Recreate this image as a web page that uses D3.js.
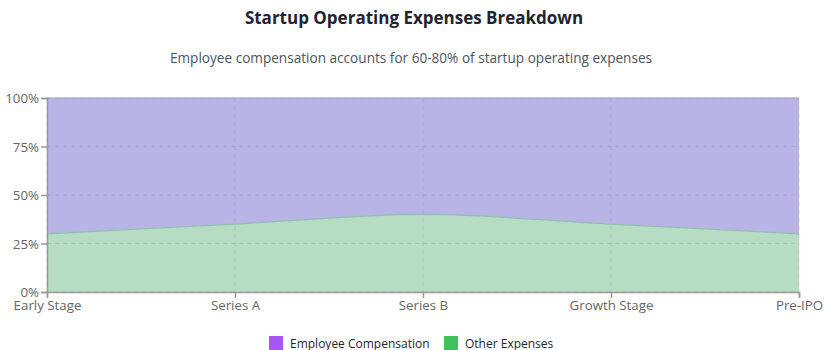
<!DOCTYPE html>
<html><head><meta charset="utf-8">
<script src="https://cdn.jsdelivr.net/npm/d3@7"></script>
<style>
body{margin:0;background:#fff;font-family:"Open Sans","Noto Sans",sans-serif;}
</style></head><body>
<svg id="chart" width="828" height="350"></svg>
<script>
const categories = ["Early Stage","Series A","Series B","Growth Stage","Pre-IPO"];
const employeeCompensation = [70,65,60,65,70];
const otherExpenses = [30,35,40,35,30];
const yTicks = [0,25,50,75,100];
const seriesNames = ["Employee Compensation","Other Expenses"];

const svg = d3.select("#chart");
const W = 828, H = 350;
const m = {left:47, right:29, top:98, bottom:58};
const iw = W - m.left - m.right, ih = H - m.top - m.bottom;

const data = categories.map((c,i)=>({cat:c, other:otherExpenses[i], emp:employeeCompensation[i]}));
const stack = d3.stack().keys(["other","emp"]).offset(d3.stackOffsetExpand);
const layers = stack(data);

const x = d3.scalePoint().domain(categories).range([0, iw]);
const y = d3.scaleLinear().domain([0,1]).range([ih, 0]);

svg.append("text").attr("x", W/2).attr("y", 24).attr("text-anchor","middle")
  .attr("font-size",17).attr("font-weight","bold").attr("fill","#1f2430").text("Startup Operating Expenses Breakdown");
svg.append("text").attr("x", W/2 - 3).attr("y", 63).attr("text-anchor","middle")
  .attr("font-size",13.6).attr("fill","#4b5563").text("Employee compensation accounts for 60-80% of startup operating expenses");

const g = svg.append("g").attr("transform",`translate(${m.left},${m.top})`);

const fills = {other:"#b6dcc4", emp:"#b8b4e5"};
const strokes = {other:"#8fbfb0", emp:"#a39fd9"};
const area = d3.area().x((d,i)=>x(categories[i])).y0(d=>y(d[0])).y1(d=>y(d[1])).curve(d3.curveMonotoneX);
const line = d3.line().x((d,i)=>x(categories[i])).y(d=>y(d[1])).curve(d3.curveMonotoneX);

g.selectAll(".area").data(layers).join("path").attr("d", area).attr("fill", d=>fills[d.key]);
g.selectAll(".ln").data(layers).join("path").attr("d", line).attr("fill","none")
  .attr("stroke", d=>strokes[d.key]).attr("stroke-width",1.2);

// grid
g.selectAll(".hg").data(yTicks).join("line").attr("x1",0).attr("x2",iw)
  .attr("y1",d=>y(d/100)).attr("y2",d=>y(d/100)).attr("stroke","#8f8fb0").attr("stroke-opacity",0.35).attr("stroke-dasharray","4,4");
g.selectAll(".vg").data(categories).join("line").attr("x1",d=>x(d)).attr("x2",d=>x(d))
  .attr("y1",0).attr("y2",ih).attr("stroke","#8f8fb0").attr("stroke-opacity",0.35).attr("stroke-dasharray","4,4");

const xa = g.append("g").attr("transform",`translate(0,${ih})`).call(d3.axisBottom(x).tickSize(6).tickPadding(3));
const ya = g.append("g").call(d3.axisLeft(y).tickValues(yTicks.map(v=>v/100)).tickFormat(d=>Math.round(d*100)+"%").tickSize(6).tickPadding(2));
[xa,ya].forEach(a=>{
  a.select(".domain").attr("stroke","#999").attr("stroke-width",1.5);
  a.selectAll(".tick line").attr("stroke","#999").attr("stroke-width",1.5);
  a.selectAll(".tick text").attr("fill","#666").attr("font-size",13.3).attr("font-family","'Open Sans','Noto Sans',sans-serif");
});
ya.selectAll(".tick text").attr("dy","0.35em");

// legend
const legendColors = ["#a855f7","#3fc160"];
const lg = svg.append("g").attr("transform","translate(269,336)");
const items = [{n:seriesNames[0],c:legendColors[0],x:0},{n:seriesNames[1],c:legendColors[1],x:175}];
items.forEach(it=>{
  lg.append("rect").attr("x",it.x).attr("y",0).attr("width",14).attr("height",14).attr("fill",it.c);
  lg.append("text").attr("x",it.x+21).attr("y",11.5).attr("font-size",12).attr("fill","#1f2430").text(it.n);
});
</script></body></html>
